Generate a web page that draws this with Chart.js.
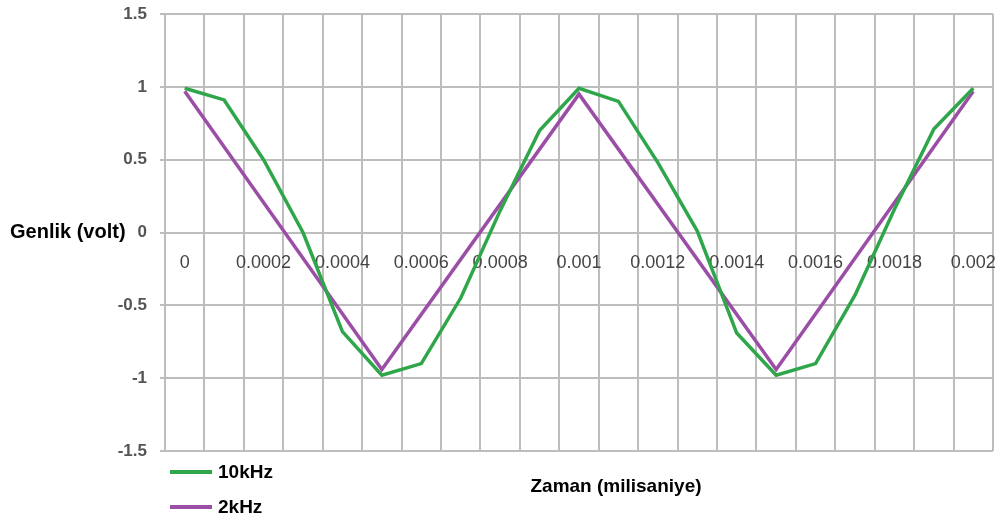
<!DOCTYPE html>
<html>
<head>
<meta charset="utf-8">
<script src="https://cdn.jsdelivr.net/npm/chart.js@4"></script>
<style>
  html, body { margin: 0; padding: 0; background: #fff; }
  #wrap { width: 1001px; height: 522px; }
</style>
</head>
<body>
<div id="wrap"><canvas id="myChart" width="1001" height="522"></canvas></div>
<script>
// time in ms steps, 0 .. 0.002
const times = ["0", "0.0001", "0.0002", "0.0003", "0.0004", "0.0005", "0.0006", "0.0007",
  "0.0008", "0.0009", "0.001", "0.0011", "0.0012", "0.0013", "0.0014", "0.0015",
  "0.0016", "0.0017", "0.0018", "0.0019", "0.002"];

// 10kHz samples
const wave10k = [0.99, 0.91, 0.5, 0.0, -0.68, -0.98, -0.9, -0.45, 0.15, 0.7, 0.99,
  0.9, 0.48, 0.01, -0.69, -0.98, -0.9, -0.43, 0.16, 0.71, 0.99];

// 2kHz only has corner points, gaps are spanned
const wave2k = [0.97, null, null, null, null, -0.94, null, null, null, null, 0.95,
  null, null, null, null, -0.94, null, null, null, null, 0.97];

const yTicks = [-1.5, -1, -0.5, 0, 0.5, 1, 1.5];

const seriesNames = ["10kHz", "2kHz"];
const seriesColors = ["#30a64a", "#9b4ea6"];

const FONT = "'Liberation Sans', Arial, sans-serif";
const gridColor = "#bdbdbd";

const ctx = document.getElementById("myChart");

const data = {
  labels: times,
  datasets: [
    {
      label: seriesNames[0],
      data: wave10k,
      borderColor: seriesColors[0],
      backgroundColor: seriesColors[0],
      borderWidth: 3.5,
      pointRadius: 0,
      tension: 0,
    },
    {
      label: seriesNames[1],
      data: wave2k,
      borderColor: seriesColors[1],
      backgroundColor: seriesColors[1],
      borderWidth: 3.5,
      pointRadius: 0,
      spanGaps: true,
      tension: 0,
    },
  ],
};

// axis titles and legend, drawn flat like the original
const extras = {
  id: "extras",
  afterDraw(chart) {
    const c = chart.ctx;
    const area = chart.chartArea;
    const y0 = chart.scales.y.getPixelForValue(0);
    c.save();
    c.fillStyle = "#000";
    c.textBaseline = "middle";
    c.font = "bold 20px " + FONT;
    c.textAlign = "left";
    c.fillText("Genlik (volt)", 10, y0);
    c.font = "bold 19px " + FONT;
    c.textAlign = "center";
    c.fillText("Zaman (milisaniye)", 616, 487);

    chart.data.datasets.forEach((ds, i) => {
      const ly = 472 + i * 35;
      c.strokeStyle = ds.borderColor;
      c.lineWidth = 4;
      c.beginPath();
      c.moveTo(area.left + 5, ly);
      c.lineTo(area.left + 47, ly);
      c.stroke();
      c.fillStyle = "#000";
      c.textAlign = "left";
      c.font = "bold 19px " + FONT;
      c.fillText(ds.label, area.left + 53, ly + 1);
    });
    c.restore();
  },
};

const config = {
  type: "line",
  data: data,
  plugins: [extras],
  options: {
    responsive: false,
    animation: false,
    layout: {
      padding: { left: 0, right: 8, top: 14, bottom: 71 },
    },
    plugins: {
      legend: { display: false },
      title: { display: false },
      tooltip: { enabled: false },
    },
    scales: {
      x: {
        type: "category",
        position: { y: 0 },
        offset: true,
        afterFit(scale) {
          scale.height = 0;
          scale.paddingLeft = 0;
          scale.paddingRight = 0;
        },
        grid: {
          offset: true,
          color: gridColor,
          lineWidth: 2,
          drawTicks: false,
        },
        border: { color: gridColor, width: 2 },
        ticks: {
          autoSkip: false,
          maxRotation: 0,
          padding: 20,
          color: "#444",
          font: { family: FONT, size: 18 },
          callback(value, index) {
            return index % 2 === 0 ? times[index] : "";
          },
        },
      },
      y: {
        min: yTicks[0],
        max: yTicks[yTicks.length - 1],
        afterFit(scale) {
          scale.width = 165;
          scale.paddingTop = 0;
          scale.paddingBottom = 0;
        },
        afterBuildTicks(scale) {
          scale.ticks = yTicks.map((v) => ({ value: v }));
        },
        grid: {
          color: gridColor,
          lineWidth: 2,
          tickLength: 5,
        },
        border: { color: gridColor, width: 2 },
        ticks: {
          padding: 13,
          color: "#555",
          font: { family: FONT, size: 17, weight: "bold" },
          callback(value) {
            return String(value);
          },
        },
      },
    },
  },
};

new Chart(ctx, config);
</script>
</body>
</html>
